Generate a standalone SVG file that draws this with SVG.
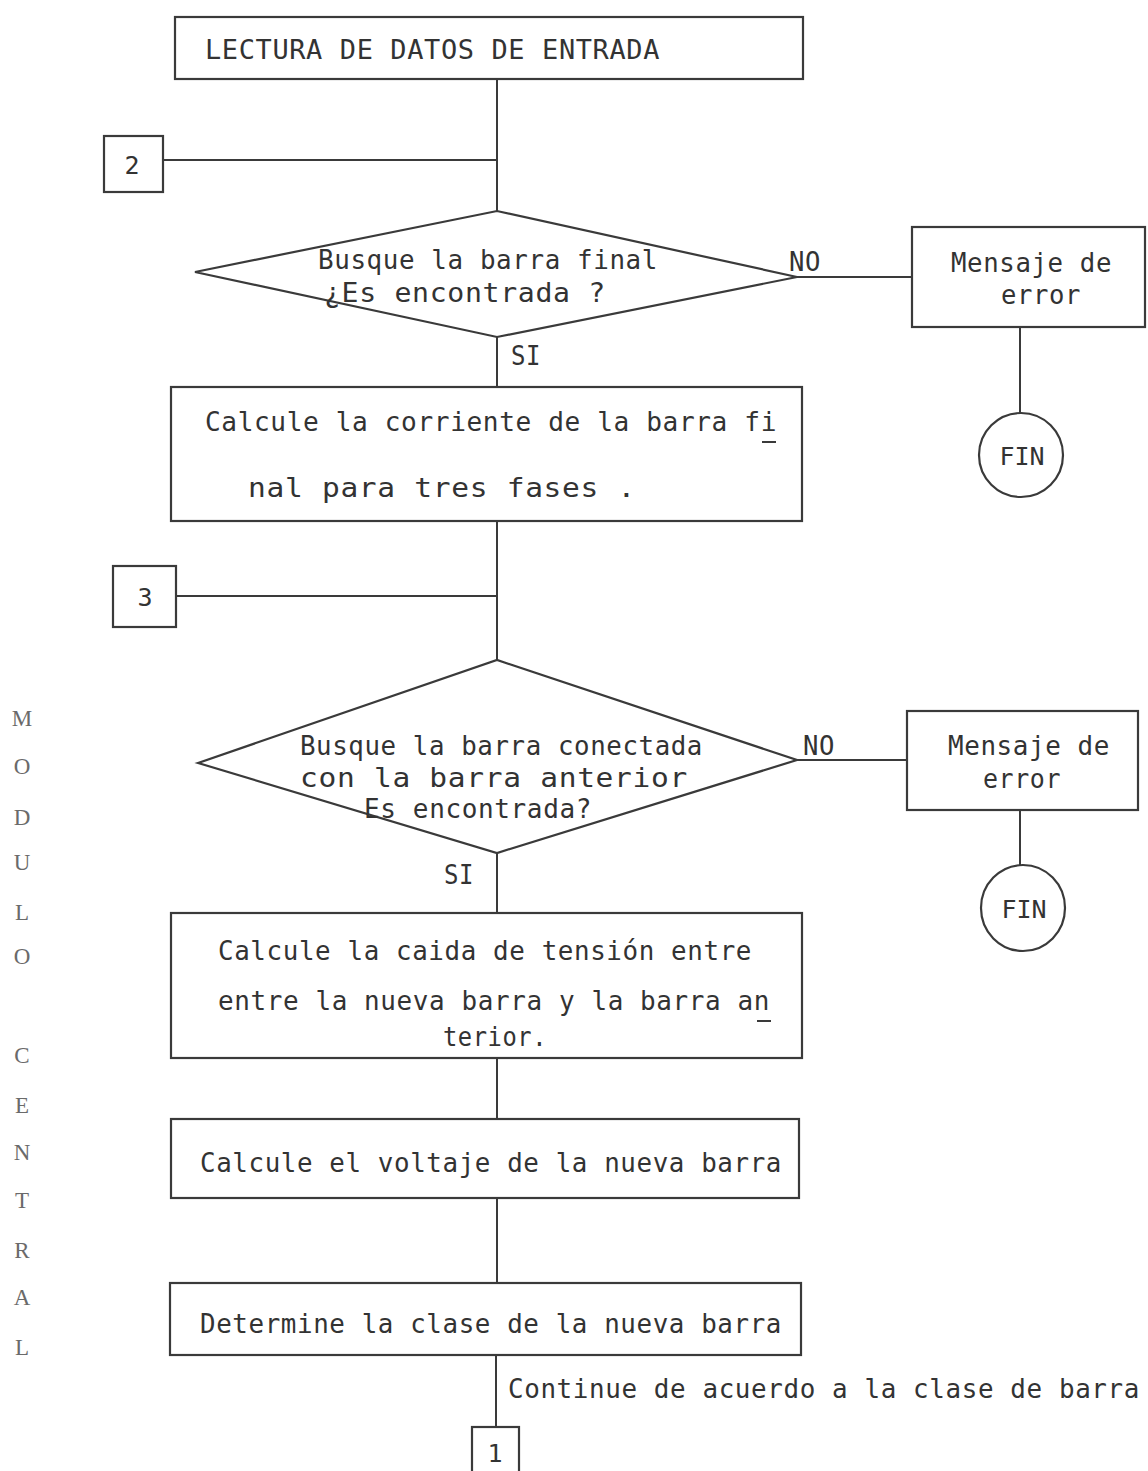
<svg xmlns="http://www.w3.org/2000/svg" width="1148" height="1471" viewBox="0 0 1148 1471">
  <style>
    .box { fill: #ffffff; stroke: #3a3a3a; stroke-width: 2.2; }
    .line { fill: none; stroke: #3a3a3a; stroke-width: 2; }
    .t { font-family: "DejaVu Sans Mono", "Liberation Mono", monospace; font-size: 26px; fill: #333333; letter-spacing: 0.6px; }
    .c { text-anchor: middle; }
    .n { letter-spacing: 0; font-size: 25px; }
    .side { font-family: "Liberation Serif", "DejaVu Serif", serif; font-size: 23px; fill: #6a6a6a; text-anchor: middle; }
  </style>
  <rect width="1148" height="1471" fill="#ffffff"/>

  <!-- connectors -->
  <g id="connectors">
    <line class="line" x1="497" y1="79" x2="497" y2="211"/>
    <line class="line" x1="163" y1="160" x2="497" y2="160"/>
    <line class="line" x1="497" y1="337" x2="497" y2="387"/>
    <line class="line" x1="797" y1="277" x2="912" y2="277"/>
    <line class="line" x1="1020" y1="327" x2="1020" y2="413"/>
    <line class="line" x1="497" y1="521" x2="497" y2="660"/>
    <line class="line" x1="176" y1="596" x2="497" y2="596"/>
    <line class="line" x1="797" y1="760" x2="907" y2="760"/>
    <line class="line" x1="1020" y1="810" x2="1020" y2="866"/>
    <line class="line" x1="497" y1="853" x2="497" y2="913"/>
    <line class="line" x1="497" y1="1058" x2="497" y2="1119"/>
    <line class="line" x1="497" y1="1198" x2="497" y2="1283"/>
    <line class="line" x1="496" y1="1355" x2="496" y2="1427"/>
    <text class="t" x="789" y="271" textLength="32" lengthAdjust="spacingAndGlyphs">NO</text>
    <text class="t" x="511" y="365" textLength="30" lengthAdjust="spacingAndGlyphs">SI</text>
    <text class="t" x="803" y="755" textLength="32" lengthAdjust="spacingAndGlyphs">NO</text>
    <text class="t" x="444" y="884" textLength="30" lengthAdjust="spacingAndGlyphs">SI</text>
    <text class="t" x="508" y="1398" textLength="632" lengthAdjust="spacingAndGlyphs">Continue de acuerdo a la clase de barra</text>
  </g>

  <!-- input read -->
  <g id="lectura">
    <rect class="box" x="175" y="17" width="628" height="62"/>
    <text class="t" x="205" y="59" textLength="455" lengthAdjust="spacingAndGlyphs">LECTURA DE DATOS DE  ENTRADA</text>
  </g>

  <!-- off-page connector 2 -->
  <g id="conector-2">
    <rect class="box" x="104" y="136" width="59" height="56"/>
    <text class="t c n" x="132" y="174">2</text>
  </g>

  <!-- decision: final bus -->
  <g id="decision-barra-final">
    <polygon class="box" points="195,272 497,211 797,277 497,337"/>
    <text class="t" x="318" y="269" textLength="340" lengthAdjust="spacingAndGlyphs">Busque la barra final</text>
    <text class="t" x="324" y="302" textLength="282" lengthAdjust="spacingAndGlyphs">¿Es encontrada ?</text>
  </g>

  <!-- error message 1 -->
  <g id="error-1">
    <rect class="box" x="912" y="227" width="233" height="100"/>
    <text class="t" x="951" y="272" textLength="161" lengthAdjust="spacingAndGlyphs">Mensaje de</text>
    <text class="t" x="1001" y="304" textLength="80" lengthAdjust="spacingAndGlyphs">error</text>
  </g>
  <g id="fin-1">
    <ellipse class="box" cx="1021" cy="455" rx="42" ry="42"/>
    <text class="t c n" x="1022" y="465">FIN</text>
  </g>

  <!-- current of final bus -->
  <g id="corriente">
    <rect class="box" x="171" y="387" width="631" height="134"/>
    <text class="t" x="205" y="431" textLength="572" lengthAdjust="spacingAndGlyphs">Calcule la corriente de la barra fi</text>
    <line class="line" x1="762" y1="442" x2="776" y2="442"/>
    <text class="t" x="248" y="497" textLength="388" lengthAdjust="spacingAndGlyphs">nal  para tres   fases .</text>
  </g>

  <!-- off-page connector 3 -->
  <g id="conector-3">
    <rect class="box" x="113" y="566" width="63" height="61"/>
    <text class="t c n" x="145" y="606">3</text>
  </g>

  <!-- decision: connected bus -->
  <g id="decision-barra-conectada">
    <polygon class="box" points="198,763 497,660 797,760 497,853"/>
    <text class="t" x="300" y="755" textLength="403" lengthAdjust="spacingAndGlyphs">Busque la barra conectada</text>
    <text class="t" x="300" y="787" textLength="388" lengthAdjust="spacingAndGlyphs">con  la  barra  anterior</text>
    <text class="t" x="364" y="818" textLength="228" lengthAdjust="spacingAndGlyphs">Es encontrada?</text>
  </g>

  <!-- error message 2 -->
  <g id="error-2">
    <rect class="box" x="907" y="711" width="231" height="99"/>
    <text class="t" x="948" y="755" textLength="162" lengthAdjust="spacingAndGlyphs">Mensaje de</text>
    <text class="t" x="983" y="788" textLength="78" lengthAdjust="spacingAndGlyphs">error</text>
  </g>
  <g id="fin-2">
    <ellipse class="box" cx="1023" cy="908" rx="42" ry="43"/>
    <text class="t c n" x="1024" y="918">FIN</text>
  </g>

  <!-- voltage drop -->
  <g id="caida-tension">
    <rect class="box" x="171" y="913" width="631" height="145"/>
    <text class="t" x="218" y="960" textLength="534" lengthAdjust="spacingAndGlyphs">Calcule la caida de tensión entre</text>
    <text class="t" x="218" y="1010" textLength="552" lengthAdjust="spacingAndGlyphs">entre la nueva barra y la barra an</text>
    <line class="line" x1="757" y1="1021" x2="771" y2="1021"/>
    <text class="t" x="443" y="1046" textLength="104" lengthAdjust="spacingAndGlyphs">terior.</text>
  </g>

  <!-- new bus voltage -->
  <g id="voltaje">
    <rect class="box" x="171" y="1119" width="628" height="79"/>
    <text class="t" x="200" y="1172" textLength="582" lengthAdjust="spacingAndGlyphs">Calcule el voltaje de la nueva barra</text>
  </g>

  <!-- bus class -->
  <g id="clase">
    <rect class="box" x="170" y="1283" width="631" height="72"/>
    <text class="t" x="200" y="1333" textLength="582" lengthAdjust="spacingAndGlyphs">Determine la clase de la nueva barra</text>
  </g>

  <!-- off-page connector 1 -->
  <g id="conector-1">
    <rect class="box" x="472" y="1427" width="47" height="60"/>
    <text class="t c n" x="495" y="1462">1</text>
  </g>

  <!-- vertical side title -->
  <g id="titulo-lateral">
    <text class="side" x="22" y="726">M</text>
    <text class="side" x="22" y="774">O</text>
    <text class="side" x="22" y="825">D</text>
    <text class="side" x="22" y="870">U</text>
    <text class="side" x="22" y="920">L</text>
    <text class="side" x="22" y="964">O</text>
    <text class="side" x="22" y="1063">C</text>
    <text class="side" x="22" y="1113">E</text>
    <text class="side" x="22" y="1160">N</text>
    <text class="side" x="22" y="1208">T</text>
    <text class="side" x="22" y="1258">R</text>
    <text class="side" x="22" y="1305">A</text>
    <text class="side" x="22" y="1355">L</text>
  </g>
</svg>
